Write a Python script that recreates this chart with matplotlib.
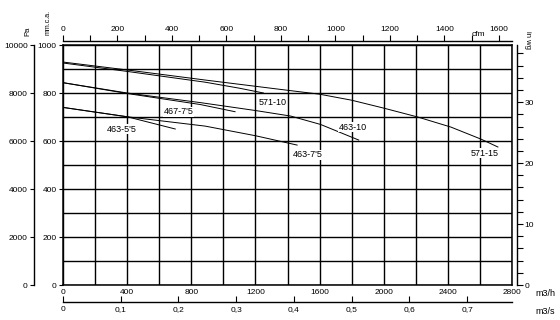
import numpy as np
import matplotlib
matplotlib.use("Agg")
import matplotlib.pyplot as plt
from matplotlib.ticker import MultipleLocator, FixedLocator, FuncFormatter

plt.rcParams['font.family'] = ['Liberation Sans', 'DejaVu Sans']
plt.rcParams['font.size'] = 6

# fan curves: airflow (m3/h) vs pressure (mm c.a.)
q_571_15 = [0, 400, 887, 1356, 1600, 1800, 2000, 2212, 2419, 2606, 2712]
p_571_15 = [929, 896, 854, 815, 795, 770, 737, 700, 658, 608, 575]

q_571_10 = [0, 400, 887, 1100, 1250]
p_571_10 = [925, 890, 845, 820, 800]

q_467_75 = [0, 400, 856, 1073]
p_467_75 = [843, 798, 752, 722]

q_463_10 = [0, 400, 856, 1200, 1419, 1606, 1844]
p_463_10 = [843, 800, 760, 727, 704, 669, 604]

q_463_55 = [0, 400, 700]
p_463_55 = [740, 701, 650]

q_463_75 = [0, 400, 887, 1200, 1460]
p_463_75 = [740, 701, 662, 622, 583]

curves = [
    (q_571_15, p_571_15, "571-15", 2631, 550),
    (q_571_10, p_571_10, "571-10", 1306, 762),
    (q_467_75, p_467_75, "467-7'5", 719, 721),
    (q_463_10, p_463_10, "463-10", 1806, 658),
    (q_463_55, p_463_55, "463-5'5", 369, 650),
    (q_463_75, p_463_75, "463-7'5", 1525, 542),
]

fig = plt.figure(figsize=(5.6, 3.2), dpi=100)
ax = fig.add_axes([63/560, 35/320, 449/560, 240/320])
ax.set_xlim(0, 2800)
ax.set_ylim(0, 1000)

ax.xaxis.set_major_locator(MultipleLocator(400))
ax.xaxis.set_minor_locator(MultipleLocator(200))
ax.yaxis.set_major_locator(MultipleLocator(200))
ax.yaxis.set_minor_locator(MultipleLocator(100))
ax.grid(which='both', color='black', lw=1.0)
ax.set_axisbelow(True)
ax.tick_params(axis='x', which='both', length=0, pad=3)
ax.tick_params(axis='y', which='major', length=3, width=0.8, pad=1.5)
ax.tick_params(axis='y', which='minor', length=0)
for s in ax.spines.values():
    s.set_linewidth(1.1)

for q, p, name, lx, ly in curves:
    ax.plot(q, p, color='black', lw=0.7)
    ax.text(lx, ly, name, ha='center', va='center', fontsize=6.5,
            bbox=dict(facecolor='white', edgecolor='none', pad=0.5))

# Pa axis on the left
pa = ax.secondary_yaxis(-29/449, functions=(lambda y: y*10, lambda v: v/10))
pa.yaxis.set_major_locator(MultipleLocator(2000))
pa.tick_params(length=3, width=0.8, pad=1.5)
pa.spines['left'].set_linewidth(1.0)

# in wg on the right
wg = ax.secondary_yaxis(1 + 5/449, functions=(lambda y: y/25.4, lambda v: v*25.4))
wg.yaxis.set_major_locator(FixedLocator([0, 10, 20, 30]))
wg.yaxis.set_minor_locator(MultipleLocator(2))
wg.tick_params(which='major', length=4, width=0.8, pad=1.5)
wg.tick_params(which='minor', length=4, width=0.8)
wg.spines['right'].set_linewidth(1.0)

# cfm on top
cfm = ax.secondary_xaxis(1 + 4/240, functions=(lambda x: x/1.699, lambda v: v*1.699))
cfm.xaxis.set_major_locator(FixedLocator([0, 200, 400, 600, 800, 1000, 1200, 1400, 1600]))
cfm.xaxis.set_minor_locator(FixedLocator([100, 300, 500, 700, 900, 1100, 1300, 1500]))
cfm.tick_params(which='both', length=4, width=0.8, pad=1.5)
cfm.spines['top'].set_linewidth(1.0)

# m3/s at bottom
ms = ax.secondary_xaxis(-17/240, functions=(lambda x: x/3600, lambda v: v*3600))
ms.xaxis.set_major_locator(FixedLocator([0, 0.1, 0.2, 0.3, 0.4, 0.5, 0.6, 0.7]))
ms.xaxis.set_major_formatter(FuncFormatter(lambda v, pos: "0" if v == 0 else ("%.1f" % v).replace(".", ",")))
ms.tick_params(direction='in', length=4, width=0.8, pad=3)
ms.spines['bottom'].set_linewidth(1.0)

fig.text(28/560, 1 - 31/320, "Pa", rotation=90, ha='center', va='center', fontsize=5.5)
fig.text(48/560, 1 - 22/320, "mm.c.a.", rotation=90, ha='center', va='center', fontsize=5)
fig.text(527/560, 1 - 40/320, "in wg", rotation=-90, ha='center', va='center', fontsize=5.5)
fig.text(478/560, 1 - 34/320, "cfm", ha='center', va='center', fontsize=6)
fig.text(545/560, 1 - 293/320, "m3/h", ha='center', va='center', fontsize=6.5)
fig.text(545/560, 1 - 312/320, "m3/s", ha='center', va='center', fontsize=6.5)

fig.savefig("out.png", dpi=100)
